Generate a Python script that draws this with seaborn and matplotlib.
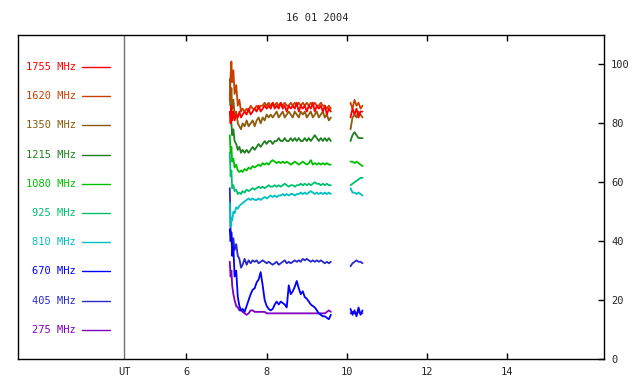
import matplotlib
matplotlib.use("Agg")
import matplotlib.pyplot as plt
import seaborn as sns
import pandas as pd

# ---------------- data ----------------
title = "16 01 2004"
freqs = ["1755 MHz", "1620 MHz", "1350 MHz", "1215 MHz", "1080 MHz",
         "925 MHz", "810 MHz", "670 MHz", "405 MHz", "275 MHz"]
colors = ["#ff0000", "#c84000", "#8b5a0a", "#208020", "#00c000",
          "#00c070", "#00c0c0", "#0000ff", "#2828c8", "#8000c0"]

times_a = [7.08, 7.10, 7.12, 7.14, 7.17, 7.20, 7.24, 7.28, 7.32, 7.36, 7.40,
           7.45, 7.50, 7.55, 7.60, 7.65, 7.70, 7.75, 7.80, 7.85, 7.90, 7.95,
           8.00, 8.05, 8.10, 8.15, 8.20, 8.25, 8.30, 8.35, 8.40, 8.45, 8.50,
           8.55, 8.60, 8.65, 8.70, 8.75, 8.80, 8.85, 8.90, 8.95, 9.00, 9.05,
           9.10, 9.15, 9.20, 9.25, 9.30, 9.35, 9.40, 9.45, 9.50, 9.55, 9.60]
times_b = [10.09, 10.14, 10.19, 10.24, 10.29, 10.34, 10.39]

mhz_1755_a = [84, 80, 86, 81, 84, 81, 83, 82, 84, 82, 83,
              84, 83, 85, 83, 84, 85, 84, 86, 84, 85, 86,
              85, 86, 85, 87, 85, 86, 85, 87, 85, 86, 84,
              86, 85, 86, 85, 87, 84, 86, 85, 86, 84, 86,
              85, 87, 84, 86, 85, 86, 84, 86, 83, 85, 84]
mhz_1755_b = [82, 85, 83, 85, 82, 84, 84]

mhz_1620_a = [88, 96, 101, 94, 98, 90, 93, 86, 88, 84, 85,
              84, 85, 84, 86, 85, 85, 86, 85, 86, 86, 87,
              86, 87, 86, 87, 86, 87, 86, 87, 86, 87, 86,
              86, 87, 86, 87, 86, 87, 86, 87, 86, 87, 86,
              87, 86, 87, 86, 86, 87, 86, 86, 85, 86, 85]
mhz_1620_b = [87, 85, 88, 86, 87, 85, 86]

mhz_1350_a = [90, 86, 92, 85, 88, 83, 84, 80, 79, 78, 80,
              79, 81, 79, 80, 81, 79, 81, 82, 80, 82, 81,
              83, 82, 83, 82, 83, 84, 82, 83, 84, 82, 83,
              84, 83, 82, 84, 83, 82, 84, 83, 84, 82, 83,
              84, 82, 83, 84, 82, 83, 84, 82, 83, 81, 82]
mhz_1350_b = [78, 82, 83, 82, 84, 83, 82]

mhz_1215_a = [95, 88, 80, 76, 78, 74, 73, 71, 72, 70, 71,
              70, 71, 70, 71, 72, 71, 72, 73, 72, 73, 74,
              73, 74, 74, 73, 74, 74, 75, 74, 74, 75, 74,
              74, 75, 74, 75, 74, 75, 74, 74, 75, 74, 75,
              74, 75, 76, 75, 74, 75, 74, 75, 74, 75, 74]
mhz_1215_b = [74, 76, 77, 76, 75, 75, 75]

mhz_1080_a = [76, 70, 72, 67, 68, 65, 66, 64, 63.5, 64, 63.5,
              64.5, 64, 65, 64.5, 65.5, 65, 65.5, 66, 65.5, 66.5, 66,
              66.5, 66, 67, 67.5, 67, 66.5, 67, 66.5, 67, 66.5, 67,
              66.5, 66, 66.5, 67, 66.5, 66, 66.5, 67, 66.5, 66, 66.5,
              67.5, 66, 66.5, 66, 66.5, 66, 66.5, 66, 66.5, 66, 66]
mhz_1080_b = [67, 67, 66.5, 67, 66.5, 66, 65.5]

mhz_925_a = [70, 62, 64, 58, 59, 57, 57.5, 56, 56.5, 56, 57,
             56.5, 57.5, 57, 57.5, 58, 57.5, 58, 58.5, 58, 58.5, 58,
             58.5, 59, 58.5, 58.5, 59, 58.5, 59, 58.5, 59, 59.5, 59,
             58.5, 59, 59, 58.5, 59, 59, 59.5, 59, 59.5, 59, 59.5,
             59, 59.5, 60, 59.5, 59.5, 59, 59.5, 59, 59.5, 59, 59]
mhz_925_b = [59, 59.5, 60, 60.5, 61, 61.5, 61.5]

mhz_810_a = [53, 45, 48, 47, 50, 49.5, 51.5, 51, 52, 52.5, 53,
             53.5, 54, 54.5, 54, 54.5, 54, 54, 54.5, 54, 54.5, 55,
             54.5, 55, 55.5, 55, 55.5, 55, 55.5, 55.5, 56, 55.5, 56,
             55.5, 56, 56, 55.5, 56, 56, 56.5, 56, 56.5, 56, 56.5,
             57, 56.5, 56, 56.5, 56, 56.5, 56, 56.5, 56, 56.5, 56]
mhz_810_b = [58, 56.5, 56.5, 56, 56.5, 56, 55.5]

mhz_670_a = [44, 40, 43, 35, 38, 28, 30, 21, 18, 16.5, 17,
             16, 18, 20, 22, 23.5, 24, 26, 27, 29.5, 25, 20,
             18, 17, 16.5, 17, 18.5, 19.5, 18.5, 19.5, 19, 18.5, 17.5,
             25, 22, 23, 24.5, 26.5, 24, 22, 23, 21, 20.5, 19.5,
             18.5, 18, 17.5, 16.5, 15.5, 15, 14.5, 14.5, 14, 13.5, 15]
mhz_670_b = [17, 15, 16.5, 14.5, 17.5, 15, 16.5]

mhz_405_a = [58, 44, 42, 38, 41, 37, 39, 35, 34, 31, 32,
             34, 32, 33.5, 32.5, 33.5, 33, 33.5, 32.5, 33, 33.5, 33,
             32.5, 33, 32.5, 32, 32.5, 33, 32, 32.5, 33, 33.5, 32.5,
             33, 32.5, 33, 33.5, 33, 33.5, 33, 34, 33.5, 34, 33.5,
             33, 33.5, 33, 33.5, 33, 33.5, 33, 32.5, 33, 32.5, 33]
mhz_405_b = [31.5, 32.5, 33, 33.5, 33, 33, 32.5]

mhz_275_a = [33, 28, 30, 25, 22, 20, 18, 17.5, 16.5, 16.5, 16,
             15.5, 15, 15.5, 16.5, 16.5, 16, 16, 16, 16, 16, 16,
             15.5, 15.5, 15.5, 15.5, 15.5, 15.5, 15.5, 15.5, 15.5, 15.5, 15.5,
             15.5, 15.5, 15.5, 15.5, 15.5, 15.5, 15.5, 15.5, 15.5, 15.5, 15.5,
             15.5, 15.5, 15.5, 15.5, 15.5, 15.5, 15.5, 15.5, 16, 16.5, 16]
mhz_275_b = [15.5, 16, 15.5, 15.5, 16, 15.5, 15.5]

series_a = [mhz_1755_a, mhz_1620_a, mhz_1350_a, mhz_1215_a, mhz_1080_a,
            mhz_925_a, mhz_810_a, mhz_670_a, mhz_405_a, mhz_275_a]
series_b = [mhz_1755_b, mhz_1620_b, mhz_1350_b, mhz_1215_b, mhz_1080_b,
            mhz_925_b, mhz_810_b, mhz_670_b, mhz_405_b, mhz_275_b]

x_ticks = [6, 8, 10, 12, 14]
y_ticks = [0, 20, 40, 60, 80, 100]
ut_pos = 4.45

# ---------------- long table ----------------
rows = []
for f, va, vb in zip(freqs, series_a, series_b):
    for t, v in zip(times_a, va):
        rows.append((f, "a", t, v))
    for t, v in zip(times_b, vb):
        rows.append((f, "b", t, v))
df = pd.DataFrame(rows, columns=["freq", "seg", "t", "v"])

# ---------------- plot ----------------
sns.set_theme(style="white")
plt.rcParams['font.family'] = ['DejaVu Sans Mono']
FS = 7.5

fig = plt.figure(figsize=(6.4, 3.84), dpi=100)
ax = fig.add_axes([18/640, 25/384, 586/640, 324/384])

palette = dict(zip(freqs, colors))
sns.lineplot(data=df, x="t", y="v", hue="freq", units="seg", estimator=None,
             hue_order=freqs[::-1], palette=palette, legend=False,
             sort=False, linewidth=1.3, ax=ax)

ax.set_xlim(1.80, 16.41)
ax.set_ylim(0, 110)
ax.axvline(ut_pos, color="#707070", lw=1)

# ticks
ax.set_xticks(x_ticks)
ax.set_xticklabels([str(v) for v in x_ticks])
ax.yaxis.tick_right()
ax.set_yticks(y_ticks)
ax.set_yticklabels([str(v) for v in y_ticks])
ax.tick_params(axis="x", which="both", direction="in", length=4, width=1,
               top=True, bottom=True, labelsize=FS, pad=6, color="black")
ax.tick_params(axis="y", which="both", direction="in", length=4, width=1,
               right=True, left=False, labelsize=FS, pad=5, color="black")
ax.set_xlabel("")
ax.set_ylabel("")
for s in ax.spines.values():
    s.set_color("black")
    s.set_linewidth(1)

ax.text(ut_pos, -0.025, "UT", transform=ax.get_xaxis_transform(),
        ha="center", va="top", fontsize=FS)

# legend-like labels
ax_left, ax_w, ax_bot, ax_h = 18, 586, 359, 324
for i, (f, c) in enumerate(zip(freqs, colors)):
    py = 67 + 29.2 * i
    yf = (ax_bot - py) / ax_h
    ax.text((76 - ax_left) / ax_w, yf, f, color=c, ha="right", va="center",
            fontsize=FS, transform=ax.transAxes)
    ax.plot([(82 - ax_left) / ax_w, (110 - ax_left) / ax_w], [yf, yf],
            color=c, lw=1, transform=ax.transAxes)

fig.text(317/640, 1 - 18/384, title, ha="center", va="center", fontsize=FS)

fig.savefig("out.png", dpi=100)
